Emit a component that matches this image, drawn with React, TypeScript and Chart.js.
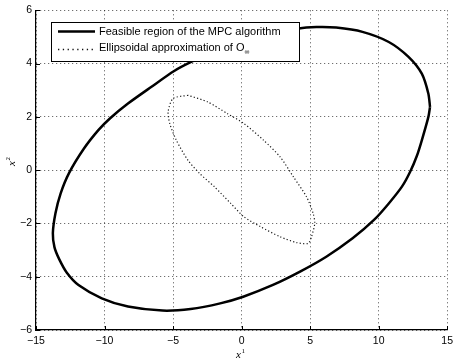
import React, { useEffect, useRef } from 'react';
import { Chart, registerables } from 'chart.js';
Chart.register(...registerables);

// Outer curve: feasible region of the MPC algorithm
const feasibleX = [13.75, 13.63, 13.15, 12.18, 10.74, 8.82, 6.9, 5.46, 4.02, 2.0, 0.0, -2.0, -3.68, -4.92, -6.6, -8.29, -9.61, -10.45, -11.5, -12.6, -13.2, -13.58, -13.77, -13.65, -13.3, -12.75, -11.9, -10.2, -8.29, -5.77, -3.72, -1.56, 0.12, 2.29, 4.3, 6.18, 8.1, 9.66, 10.74, 11.7, 12.3, 12.8, 13.15, 13.63, 13.75];
const feasibleY = [2.37, 2.87, 3.62, 4.25, 4.81, 5.19, 5.35, 5.37, 5.31, 5.12, 4.82, 4.45, 4.06, 3.72, 3.12, 2.5, 1.94, 1.5, 0.81, -0.12, -0.87, -1.62, -2.37, -2.9, -3.35, -3.85, -4.31, -4.81, -5.12, -5.27, -5.21, -5.0, -4.75, -4.31, -3.8, -3.25, -2.56, -1.87, -1.25, -0.62, -0.06, 0.55, 1.12, 2.0, 2.37];

// Inner curve: ellipsoidal approximation of O_inf
const ellipseX = [-3.91, -5.0, -5.36, -5.24, -4.76, -3.91, -3.07, -1.99, -0.79, 0.17, 1.37, 2.81, 4.02, 4.86, 5.1, 5.34, 5.22, 4.74, 3.78, 2.81, 1.61, 0.17, -1.03, -2.47, -3.91];
const ellipseY = [2.81, 2.69, 2.19, 1.75, 1.12, 0.37, -0.12, -0.62, -1.25, -1.75, -2.12, -2.5, -2.72, -2.75, -2.5, -2.0, -1.62, -1.0, -0.25, 0.5, 1.12, 1.75, 2.12, 2.56, 2.81];

const xTicks = [-15, -10, -5, 0, 5, 10, 15];
const yTicks = [-6, -4, -2, 0, 2, 4, 6];
const legendLabels = ['Feasible region of the MPC algorithm', 'Ellipsoidal approximation of O'];
const legendSubscript = '\u221e';
const axisTitleBase = 'x';
const xTitleSup = '1';
const yTitleSup = '2';

const SANS = '"Liberation Sans", Arial, Helvetica, sans-serif';
const SERIF = '"Liberation Serif", "DejaVu Serif", serif';

const fmt = (v: number) => String(v).replace('-', '\u2212');

const overlay = {
  id: 'overlay',
  afterDatasetsDraw(chart: any) {
    const ctx = chart.ctx;
    const area = chart.chartArea;
    const xs = chart.scales.x;
    const ys = chart.scales.y;
    ctx.save();
    // inward tick marks
    ctx.strokeStyle = '#000';
    ctx.lineWidth = 1;
    ctx.beginPath();
    xTicks.forEach((t) => {
      const px = Math.round(xs.getPixelForValue(t)) + 0.5;
      ctx.moveTo(px, area.bottom);
      ctx.lineTo(px, area.bottom - 4);
    });
    yTicks.forEach((t) => {
      const py = Math.round(ys.getPixelForValue(t)) + 0.5;
      ctx.moveTo(area.left, py);
      ctx.lineTo(area.left + 4, py);
    });
    ctx.stroke();

    // legend box
    const bx = 51.5, by = 22.5, bw = 248, bh = 39;
    ctx.fillStyle = '#fff';
    ctx.fillRect(bx, by, bw, bh);
    ctx.strokeStyle = '#000';
    ctx.lineWidth = 1;
    ctx.strokeRect(bx, by, bw, bh);

    ctx.lineWidth = 2.5;
    ctx.beginPath();
    ctx.moveTo(58, 31.5);
    ctx.lineTo(95, 31.5);
    ctx.stroke();

    ctx.lineWidth = 1.3;
    ctx.setLineDash([1.3, 3.5]);
    ctx.strokeStyle = '#111';
    ctx.beginPath();
    ctx.moveTo(58, 49.5);
    ctx.lineTo(95, 49.5);
    ctx.stroke();
    ctx.setLineDash([]);

    ctx.fillStyle = '#000';
    ctx.font = '11px ' + SANS;
    ctx.textBaseline = 'middle';
    ctx.textAlign = 'left';
    ctx.fillText(legendLabels[0], 99, 32);
    ctx.fillText(legendLabels[1], 99, 48);
    const w = ctx.measureText(legendLabels[1]).width;
    ctx.font = '7px ' + SANS;
    ctx.fillText(legendSubscript, 99 + w, 52);

    // axis titles
    ctx.font = 'italic 11px ' + SERIF;
    ctx.textBaseline = 'alphabetic';
    const xw = ctx.measureText(axisTitleBase).width;
    ctx.fillText(axisTitleBase, 236, 358);
    ctx.font = '7px ' + SERIF;
    ctx.fillText(xTitleSup, 236 + xw + 0.5, 353);

    ctx.translate(15, 166);
    ctx.rotate(-Math.PI / 2);
    ctx.font = 'italic 11px ' + SERIF;
    ctx.fillText(axisTitleBase, 0, 0);
    ctx.font = '7px ' + SERIF;
    ctx.fillText(yTitleSup, xw + 0.5, -5);
    ctx.restore();
  },
};

export default function App() {
  const ref = useRef<HTMLCanvasElement>(null);
  useEffect(() => {
    document.body.style.margin = '0';
    const canvas = ref.current!;
    const chart = new Chart(canvas, {
      type: 'scatter',
      data: {
        datasets: [
          {
            label: legendLabels[0],
            data: feasibleX.map((x, i) => ({ x, y: feasibleY[i] })),
            showLine: true,
            borderColor: '#000',
            borderWidth: 2.5,
            pointRadius: 0,
            tension: 0.25,
            fill: false,
          },
          {
            label: legendLabels[1],
            data: ellipseX.map((x, i) => ({ x, y: ellipseY[i] })),
            showLine: true,
            borderColor: '#1a1a1a',
            borderWidth: 1.2,
            borderDash: [1.2, 2.2],
            pointRadius: 0,
            tension: 0.25,
            fill: false,
          },
        ],
      },
      options: {
        responsive: false,
        animation: false,
        layout: { padding: { top: 10, right: 5, left: 0, bottom: 0 } },
        plugins: { legend: { display: false }, tooltip: { enabled: false } },
        scales: {
          x: {
            type: 'linear',
            min: -15,
            max: 15,
            afterFit: (s: any) => { s.height = 33; },
            afterBuildTicks: (s: any) => { s.ticks = xTicks.map((v) => ({ value: v })); },
            ticks: {
              callback: (v: any) => fmt(v),
              color: '#000',
              font: { family: SANS, size: 10.5 },
              padding: 5,
              maxRotation: 0,
            },
            grid: { color: 'rgba(0,0,0,0.7)', lineWidth: 1, drawTicks: false },
            border: { display: true, color: '#000', width: 1.2, dash: [1, 3] },
          },
          y: {
            type: 'linear',
            min: -6,
            max: 6,
            afterFit: (s: any) => { s.width = 36; },
            afterBuildTicks: (s: any) => { s.ticks = yTicks.map((v) => ({ value: v })); },
            ticks: {
              callback: (v: any) => fmt(v),
              color: '#000',
              font: { family: SANS, size: 10.5 },
              padding: 4,
            },
            grid: { color: 'rgba(0,0,0,0.7)', lineWidth: 1, drawTicks: false },
            border: { display: true, color: '#000', width: 1.2, dash: [1, 3] },
          },
        },
      },
      plugins: [overlay],
    } as any);
    return () => chart.destroy();
  }, []);
  return (
    <div style={{ width: 458, height: 363 }}>
      <canvas ref={ref} width={458} height={363} />
    </div>
  );
}
